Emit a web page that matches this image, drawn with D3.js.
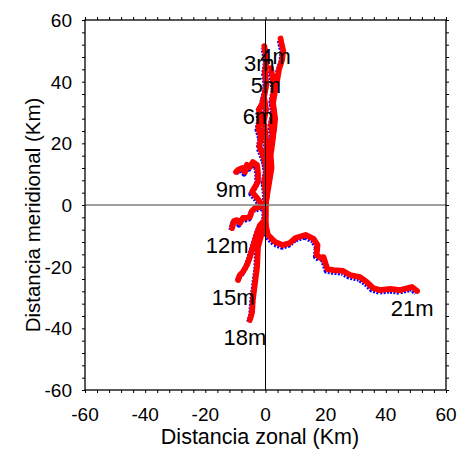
<!DOCTYPE html>
<html>
<head>
<meta charset="utf-8">
<script src="https://cdn.jsdelivr.net/npm/d3@7"></script>
<style>
  html, body { margin: 0; padding: 0; background: #fff; }
  svg { display: block; }
  text { font-family: "Liberation Sans", Arial, Helvetica, sans-serif; fill: #000; }
</style>
</head>
<body>
<svg id="chart" width="457" height="455"></svg>
<script>
// ---- data (km) ----
const xDomain = [-60, 60];
const yDomain = [-60, 60];
const tickLabels = [-60, -40, -20, 0, 20, 40, 60];
const xTitle = "Distancia zonal (Km)";
const yTitle = "Distancia meridional (Km)";

const traj3m = [[0,0],[0.2,3],[-0.3,7],[0.3,11],[-0.2,15],[0.5,19],[0,23],[-0.6,27],[0.2,31],[-0.5,35],[0.3,39],[-0.2,43],[0.4,47],[-0.4,51.5]];
const traj4m = [[0,0],[1,6],[2,12],[1.6,18],[2.8,24],[3.2,28],[2.5,33],[3,36],[3.8,40],[4.5,44],[5.5,47],[5.9,50],[5.3,52.5],[5.0,54]];
const traj5m = [[0,0],[0.6,5],[1.5,10],[1,14],[2,18],[2.5,22],[1.8,26],[2.8,30],[2.2,34],[3,38],[2.4,41],[1.8,44.4]];
const traj6m = [[0,0],[0.5,4],[-0.3,8],[0.6,12],[-0.8,16],[-2,19],[-1.5,22],[-2.4,25],[-1.8,28],[-2.2,31],[-1,33],[-0.8,34.4]];
const traj9m = [[0,0],[-0.8,-0.6],[-2.8,2.3],[-4.5,4.2],[-3.5,5.8],[-2.5,7.5],[-2.5,10.4],[-2.8,13.0],[-4.2,13.9],[-5.2,12.3],[-6.2,13.0],[-6.8,10.7],[-7.8,12.0],[-9.1,11.4],[-9.8,10.7]];
const traj12m = [[0,0],[-1.8,-0.6],[-3.5,-1.0],[-4.5,-1.9],[-5.2,-3.9],[-6.5,-4.2],[-7.5,-4.2],[-8.5,-5.8],[-9.5,-4.9],[-10.5,-5.2],[-10.8,-6.2],[-11.1,-7.5]];
const traj15m = [[0,0],[0,-3],[-0.2,-4.9],[-1.8,-6.5],[-2.8,-9.1],[-4.2,-13.6],[-5.2,-16.9],[-6.2,-19.5],[-7.5,-21.7],[-8.5,-22.7],[-9.1,-24.3]];
const traj18m = [[0,0],[0,-4],[-0.2,-7.1],[-1.2,-9.1],[-2.5,-13.6],[-2.8,-20.1],[-3.5,-25.3],[-4.2,-30.8],[-4.5,-35.0],[-5.2,-37.3]];
const traj21m = [[0,0],[0,-4],[0.2,-7],[0.8,-9.7],[3.2,-12.0],[5.8,-13.0],[8.1,-12.3],[10,-10.7],[13.3,-9.7],[16,-11],[17.3,-13],[17,-16.2],[18.3,-17.2],[19.3,-16.9],[19.9,-18.8],[20.6,-20.8],[22.6,-21.1],[25.8,-21.4],[28.1,-22.7],[31.4,-23.4],[33.7,-25.0],[35.7,-26.9],[38.1,-27.6],[41.4,-27.2],[44.7,-27.6],[48.7,-26.6],[50.4,-27.9]];

const trajectories = [traj3m, traj4m, traj5m, traj6m, traj9m, traj12m, traj15m, traj18m, traj21m];
const trajLabels = ["3m", "4m", "5m", "6m", "9m", "12m", "15m", "18m", "21m"];

// ---- layout ----
const svg = d3.select("#chart");
const mLeft = 85, mRight = 446, mTop = 20, mBottom = 390;

const x = d3.scaleLinear().domain(xDomain).range([mLeft, mRight]);
const y = d3.scaleLinear().domain(yDomain).range([mBottom, mTop]);

const line = d3.line().x(d => x(d[0])).y(d => y(d[1])).curve(d3.curveLinear);

// trajectories: blue underneath, red on top
const gBlue = svg.append("g").attr("transform", "translate(-1,1.9)");
trajectories.forEach(t => {
  gBlue.append("path").attr("d", line(t))
    .attr("fill", "none").attr("stroke", "#0000ff").attr("stroke-width", 5.5)
    .attr("stroke-dasharray", "2 1.4").attr("stroke-linejoin", "round");
});
const gRed = svg.append("g");
trajectories.forEach(t => {
  gRed.append("path").attr("d", line(t))
    .attr("fill", "none").attr("stroke", "#ff0000").attr("stroke-width", 5.8)
    .attr("stroke-linejoin", "round").attr("stroke-linecap", "round");
});

// zero lines
svg.append("line").attr("x1", x(-60)).attr("x2", x(60)).attr("y1", y(0)).attr("y2", y(0))
  .attr("stroke", "#808080").attr("stroke-width", 1.5);
svg.append("line").attr("x1", x(0)).attr("x2", x(0)).attr("y1", y(60)).attr("y2", y(-60))
  .attr("stroke", "#000").attr("stroke-width", 1);

// axes (ticks every 4 km, outward)
const minorTicks = d3.range(-60, 61, 4);
function styleAxis(g) {
  g.select(".domain").remove();
  g.selectAll(".tick line").attr("stroke", "#000").attr("stroke-width", 1);
  g.selectAll(".tick text").remove();
}
svg.append("g").attr("transform", `translate(0,${mBottom})`)
  .call(d3.axisBottom(x).tickValues(minorTicks).tickSize(3)).call(styleAxis);
svg.append("g").attr("transform", `translate(0,${mTop})`)
  .call(d3.axisTop(x).tickValues(minorTicks).tickSize(3)).call(styleAxis);
svg.append("g").attr("transform", `translate(${mLeft},0)`)
  .call(d3.axisLeft(y).tickValues(minorTicks).tickSize(3)).call(styleAxis);
svg.append("g").attr("transform", `translate(${mRight},0)`)
  .call(d3.axisRight(y).tickValues(minorTicks).tickSize(3)).call(styleAxis);

// frame
svg.append("rect").attr("x", mLeft).attr("y", mTop).attr("width", mRight - mLeft).attr("height", mBottom - mTop)
  .attr("fill", "none").attr("stroke", "#000").attr("stroke-width", 1.3);

// tick labels
const fs = 19;
svg.append("g").selectAll("text").data(tickLabels).join("text")
  .attr("x", d => x(d)).attr("y", mBottom + 31)
  .attr("text-anchor", "middle").attr("font-size", fs).text(d => d);
svg.append("g").selectAll("text").data(tickLabels).join("text")
  .attr("x", mLeft - 13).attr("y", d => y(d) + 7)
  .attr("text-anchor", "end").attr("font-size", fs).text(d => d);

// titles
svg.append("text").attr("x", 260).attr("y", 444).attr("text-anchor", "middle")
  .attr("font-size", 21.5).text(xTitle);
svg.append("text").attr("transform", "translate(39.5,215) rotate(-90)")
  .attr("text-anchor", "middle").attr("font-size", 20.5).text(yTitle);

// trajectory end labels
svg.append("g").selectAll("text").data(trajectories).join("text")
  .attr("x", d => x(d[d.length - 1][0]) - 5)
  .attr("y", d => y(d[d.length - 1][1]) + 25)
  .attr("text-anchor", "middle").attr("font-size", 22)
  .text((d, i) => trajLabels[i]);
</script>
</body>
</html>
